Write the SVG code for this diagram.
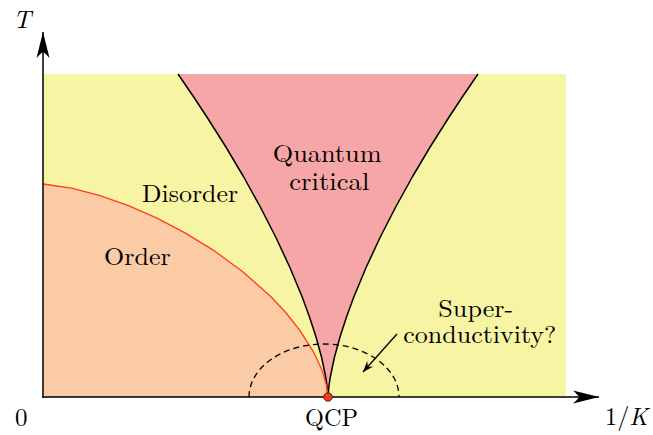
<svg xmlns="http://www.w3.org/2000/svg" width="653" height="435" viewBox="0 0 653 435">
  <defs>
    <marker id="axisHead" markerUnits="userSpaceOnUse" viewBox="-27 -8 28 16" markerWidth="28" markerHeight="16" refX="0" refY="0" orient="auto">
      <path d="M0,0 L-26,-6.5 Q-21,-2 -20,0 Q-21,2 -26,6.5 Z" fill="#000"/>
    </marker>
    <marker id="smallHead" markerUnits="userSpaceOnUse" viewBox="-12 -6 13 12" markerWidth="13" markerHeight="12" refX="0" refY="0" orient="auto">
      <path d="M0,0 L-11,-4.2 Q-8,-1 -7.5,0 Q-8,1 -11,4.2 Z" fill="#000"/>
    </marker>
  </defs>
  <style>
    .lbl { font-size: 25px; fill: #000; }
    .it { font-style: italic; }
    .bound { fill: none; stroke: #000; stroke-width: 1.5; stroke-linejoin: round; }
    .axis { fill: none; stroke: #000; stroke-width: 1.5; }
  </style>

  <g id="regions">
    <rect id="disorder-region" x="43" y="74" width="523" height="323" fill="#F7F4A3"/>
    <path id="order-region" d="M43,184 L71.5,188.1 L100,195.7 L128.5,205.7 L157,218.2 L185.5,233.1 L214,250.6 L242.5,271.5 L271,296.8 L285.3,312 L299.5,329.8 L313.8,352.3 L322.3,371.1 L326.6,385.7 L328,397 L43,397 Z" fill="#FBCBA5"/>
    <path id="qc-region" d="M178,74 L193.7,97 L206.9,117 L225.9,147 L243.7,177 L260.3,207 L275.7,237 L289.7,267 L302.2,297 L309.5,317 L316,337 L321.5,357 L325.7,377 L327.2,387 L328,397 L328.8,387 L330.3,377 L334.5,357 L340,337 L346.5,317 L353.8,297 L366.3,267 L380.3,237 L395.7,207 L412.3,177 L430.1,147 L449.1,117 L462.3,97 L478,74 Z" fill="#F6A6A6"/>
  </g>

  <g id="connectors">
    <polyline id="left-crossover" class="bound" points="178,74 193.7,97 206.9,117 225.9,147 243.7,177 260.3,207 275.7,237 289.7,267 302.2,297 309.5,317 316,337 321.5,357 325.7,377 327.2,387 328,397"/>
    <polyline id="right-crossover" class="bound" points="478,74 462.3,97 449.1,117 430.1,147 412.3,177 395.7,207 380.3,237 366.3,267 353.8,297 346.5,317 340,337 334.5,357 330.3,377 328.8,387 328,397"/>
    <polyline id="order-boundary" fill="none" stroke="#FF3C1E" stroke-width="1.3" stroke-linejoin="round" points="43,184 71.5,188.1 100,195.7 128.5,205.7 157,218.2 185.5,233.1 214,250.6 242.5,271.5 271,296.8 285.3,312 299.5,329.8 313.8,352.3 322.3,371.1 326.6,385.7 328,397"/>
    <path id="sc-dome" d="M249,397 A75,53 0 0 1 399,397" fill="none" stroke="#000" stroke-width="1.3" stroke-dasharray="6,4"/>
    <line id="sc-arrow" x1="397" y1="334" x2="363" y2="372" stroke="#000" stroke-width="1.3" marker-end="url(#smallHead)"/>
    <line id="t-axis" class="axis" x1="43" y1="398" x2="43" y2="32" marker-end="url(#axisHead)"/>
    <line id="k-axis" class="axis" x1="42.25" y1="397" x2="599" y2="397" marker-end="url(#axisHead)"/>
  </g>

  <g font-family="Latin Modern Roman, Liberation Serif, serif">
    <g id="qcp">
      <circle cx="328" cy="397" r="4.2" fill="#F03C1E" stroke="#5a1a0a" stroke-width="1"/>
      <text class="lbl" x="305" y="426" textLength="53" lengthAdjust="spacingAndGlyphs">QCP</text>
    </g>

    <g id="quantum-critical">
      <text class="lbl" x="272.7" y="162" textLength="109" lengthAdjust="spacingAndGlyphs">Quantum</text>
      <text class="lbl" x="289.3" y="189.5" textLength="80" lengthAdjust="spacingAndGlyphs">critical</text>
    </g>

    <g id="disorder">
      <text class="lbl" x="141.7" y="201.7" textLength="96.5" lengthAdjust="spacingAndGlyphs">Disorder</text>
    </g>

    <g id="order">
      <text class="lbl" x="104" y="265" textLength="66.7" lengthAdjust="spacingAndGlyphs">Order</text>
    </g>

    <g id="superconductivity">
      <text class="lbl" x="438.3" y="317.3" textLength="75" lengthAdjust="spacingAndGlyphs">Super-</text>
      <text class="lbl" x="403.3" y="342.7" textLength="153" lengthAdjust="spacingAndGlyphs">conductivity?</text>
    </g>

    <g id="axis-labels">
      <text class="lbl" x="15" y="426">0</text>
      <text class="lbl" x="605" y="425" textLength="43" lengthAdjust="spacingAndGlyphs">1/<tspan class="it">K</tspan></text>
      <text class="lbl it" x="13" y="28" textLength="18" lengthAdjust="spacingAndGlyphs">T</text>
    </g>
  </g>
</svg>
